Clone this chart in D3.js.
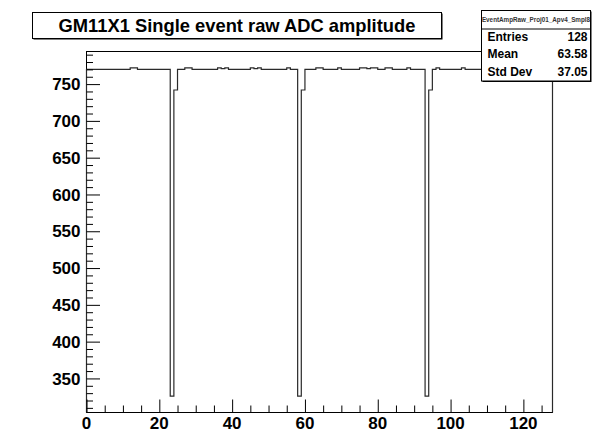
<!DOCTYPE html>
<html>
<head>
<meta charset="utf-8">
<script src="https://cdn.jsdelivr.net/npm/d3@7"></script>
<style>
  html, body { margin: 0; padding: 0; background: #fff; }
  svg { display: block; }
  text { font-family: "Liberation Sans", Arial, Helvetica, sans-serif; font-weight: bold; }
</style>
</head>
<body>
<svg id="chart" width="611" height="431"></svg>
<script>
// Histogram: raw ADC amplitude per strip channel for one event (128 bins, 0..128)
const binEdges = [0, 128];
const binValues = [
  770, 770, 770, 770, 770, 770, 770, 770, 770, 770, 770, 770, 772, 772, 770, 770,   // 0-15
  770, 770, 770, 770, 770, 770, 770, 326, 742, 770, 770, 772, 772, 770, 770, 770,   // 16-31
  770, 770, 770, 770, 772, 771, 772, 770, 770, 770, 770, 770, 770, 772, 771, 772,   // 32-47
  770, 770, 770, 770, 770, 770, 770, 772, 770, 770, 326, 742, 770, 770, 770, 772,   // 48-63
  772, 770, 770, 770, 770, 772, 770, 770, 770, 770, 770, 772, 772, 771, 772, 772,   // 64-79
  770, 770, 772, 772, 770, 770, 770, 770, 772, 770, 770, 770, 770, 326, 742, 770,   // 80-95
  772, 770, 770, 770, 770, 770, 770, 772, 770, 770, 770, 770, 770, 770, 770, 770,   // 96-111
  770, 770, 770, 770, 770, 770, 770, 770, 770, 770, 770, 770, 770, 770, 770, 770    // 112-127
];

// Axis ticks
const xMajorTicks = [0, 20, 40, 60, 80, 100, 120];
const yMajorTicks = [350, 400, 450, 500, 550, 600, 650, 700, 750];

// Text
const titleText = "GM11X1 Single event raw ADC amplitude";
const statName = "EventAmpRaw_Proj01_Apv4_Smpl8";
const statLabels = ["Entries", "Mean", "Std Dev"];
const statValues = ["128", "63.58", "37.05"];

const svg = d3.select("#chart");

// Frame geometry
const frame = { left: 86.5, right: 552.5, top: 51.5, bottom: 412.5 };

// y range with a 5% margin around the data extent
const yLo = d3.min(binValues), yHi = d3.max(binValues);
const yMargin = 0.05 * (yHi - yLo);

const x = d3.scaleLinear().domain(binEdges).range([frame.left, frame.right]);
const y = d3.scaleLinear().domain([yLo - yMargin, yHi + yMargin]).range([frame.bottom, frame.top]);

// Frame box
svg.append("rect")
  .attr("x", frame.left).attr("y", frame.top)
  .attr("width", frame.right - frame.left).attr("height", frame.bottom - frame.top)
  .attr("fill", "none").attr("stroke", "#000").attr("stroke-width", 1);

// Histogram outline as a step line starting and ending on the baseline
const nBins = binValues.length;
const bw = (binEdges[1] - binEdges[0]) / nBins;
const pts = [[binEdges[0], y.domain()[0]]];
binValues.forEach((v, i) => {
  pts.push([binEdges[0] + i * bw, v]);
  pts.push([binEdges[0] + (i + 1) * bw, v]);
});
pts.push([binEdges[1], y.domain()[0]]);

svg.append("path")
  .datum(pts)
  .attr("d", d3.line().x(d => x(d[0])).y(d => y(d[1])))
  .attr("fill", "none")
  .attr("stroke", "#2a2a2a")
  .attr("stroke-width", 1.2);

// Y axis: ticks point inward (to the right)
const yAxis = d3.axisRight(y)
  .tickValues(yMajorTicks)
  .tickSize(13.5)
  .tickFormat("");
const gy = svg.append("g").attr("transform", `translate(${frame.left},0)`).call(yAxis);
gy.select(".domain").remove();
gy.selectAll(".tick line").attr("stroke", "#000");

const yMinor = d3.range(310, 791, 10).filter(v => v % 50 !== 0);
const gyMinor = svg.append("g").attr("transform", `translate(${frame.left},0)`)
  .call(d3.axisRight(y).tickValues(yMinor).tickSize(6.5).tickFormat(""));
gyMinor.select(".domain").remove();
gyMinor.selectAll(".tick line").attr("stroke", "#000");

svg.append("g").selectAll("text")
  .data(yMajorTicks)
  .join("text")
  .attr("x", frame.left - 6)
  .attr("y", d => y(d))
  .attr("dy", "0.36em")
  .attr("text-anchor", "end")
  .attr("font-size", 17)
  .attr("fill", "#000")
  .text(d => d);

// X axis: ticks point upward (into the frame)
const gx = svg.append("g").attr("transform", `translate(0,${frame.bottom})`)
  .call(d3.axisTop(x).tickValues(xMajorTicks).tickSize(13).tickFormat(""));
gx.select(".domain").remove();
gx.selectAll(".tick line").attr("stroke", "#000");

const xMinor = d3.range(5, 126, 5).filter(v => v % 20 !== 0);
const gxMinor = svg.append("g").attr("transform", `translate(0,${frame.bottom})`)
  .call(d3.axisTop(x).tickValues(xMinor).tickSize(7).tickFormat(""));
gxMinor.select(".domain").remove();
gxMinor.selectAll(".tick line").attr("stroke", "#000");

svg.append("g").selectAll("text")
  .data(xMajorTicks)
  .join("text")
  .attr("x", d => x(d))
  .attr("y", frame.bottom + 16)
  .attr("text-anchor", "middle")
  .attr("font-size", 17)
  .attr("fill", "#000")
  .text(d => d);

// Title box with a thin shadow
const tb = { x: 32.5, y: 12.5, w: 409, h: 26 };
svg.append("rect").attr("x", tb.x + 1).attr("y", tb.y + 1).attr("width", tb.w).attr("height", tb.h).attr("fill", "#000");
svg.append("rect").attr("x", tb.x).attr("y", tb.y).attr("width", tb.w).attr("height", tb.h)
  .attr("fill", "#fff").attr("stroke", "#000").attr("stroke-width", 1);
const title = svg.append("text")
  .attr("x", tb.x + tb.w / 2).attr("y", tb.y + tb.h / 2)
  .attr("dy", "0.36em")
  .attr("text-anchor", "middle")
  .attr("font-size", 20)
  .attr("fill", "#000")
  .text(titleText);
const tw = title.node().getComputedTextLength();
title.attr("font-size", 20 * 357 / tw);

// Statistics box
const sb = { x: 481.5, y: 10.5, w: 109, h: 70.5, head: 18.5 };
svg.append("rect").attr("x", sb.x + 1).attr("y", sb.y + 1).attr("width", sb.w).attr("height", sb.h).attr("fill", "#000");
svg.append("rect").attr("x", sb.x).attr("y", sb.y).attr("width", sb.w).attr("height", sb.h)
  .attr("fill", "#fff").attr("stroke", "#000").attr("stroke-width", 1);
svg.append("line")
  .attr("x1", sb.x).attr("x2", sb.x + sb.w)
  .attr("y1", sb.y + sb.head).attr("y2", sb.y + sb.head)
  .attr("stroke", "#000");
svg.append("text")
  .attr("x", sb.x + sb.w / 2).attr("y", sb.y + sb.head / 2)
  .attr("dy", "0.36em")
  .attr("text-anchor", "middle")
  .attr("font-size", 6.3)
  .attr("font-weight", "normal")
  .attr("fill", "#333")
  .text(statName);

const rowH = (sb.h - sb.head) / statLabels.length;
statLabels.forEach((lab, i) => {
  const cy = sb.y + sb.head + rowH * (i + 0.5) - 1;
  svg.append("text")
    .attr("x", sb.x + 6).attr("y", cy).attr("dy", "0.36em")
    .attr("font-size", 12).attr("fill", "#000")
    .text(lab);
  svg.append("text")
    .attr("x", sb.x + sb.w - 3).attr("y", cy).attr("dy", "0.36em")
    .attr("text-anchor", "end")
    .attr("font-size", 12).attr("fill", "#000")
    .text(statValues[i]);
});
</script>
</body>
</html>
